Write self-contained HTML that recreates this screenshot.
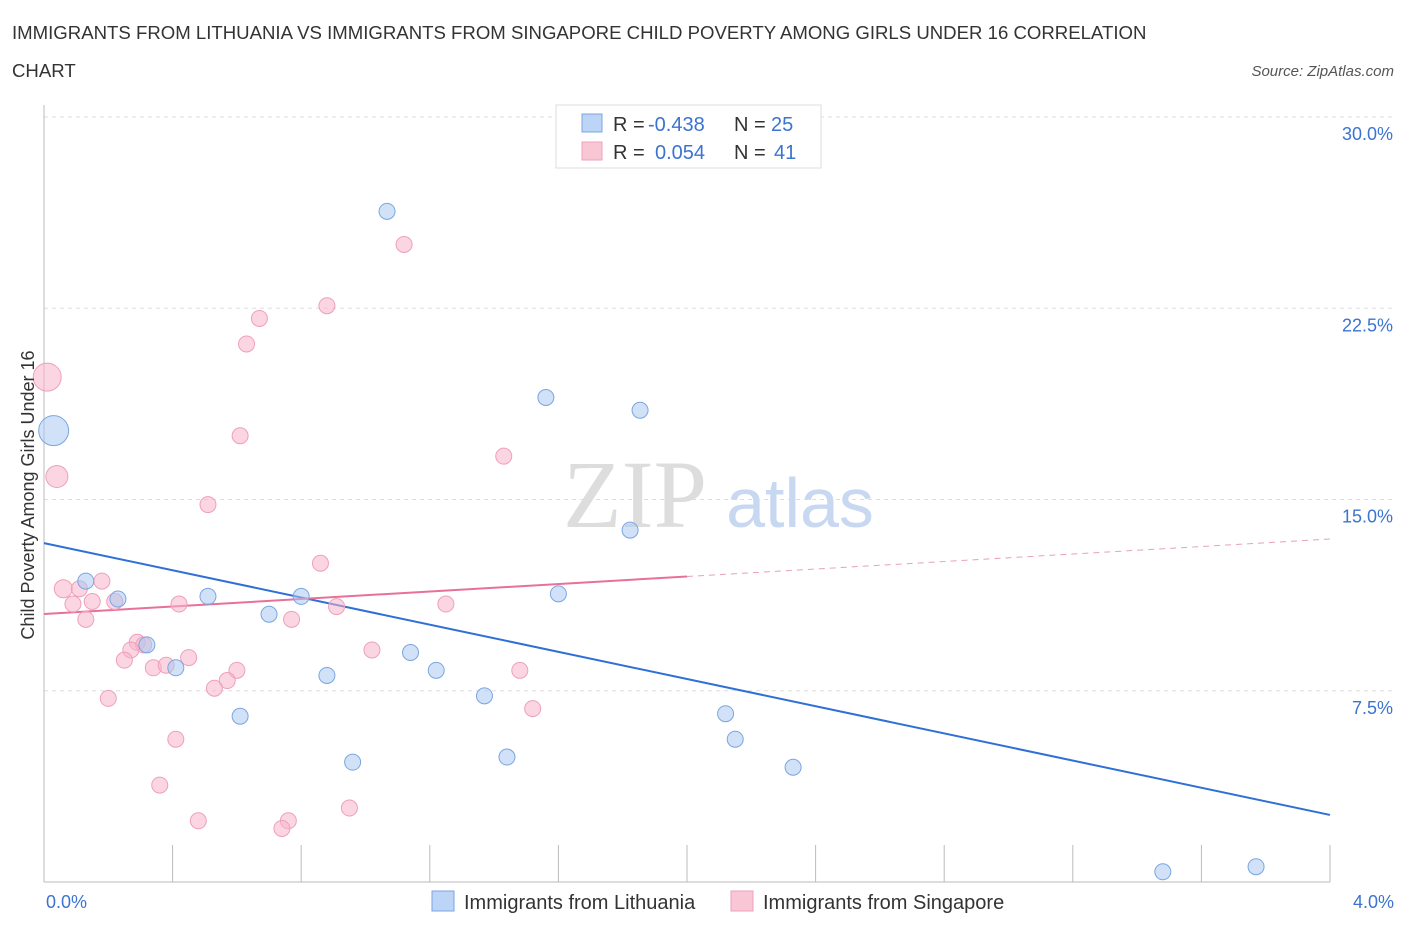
<!DOCTYPE html>
<html><head><meta charset="utf-8"><style>
body{margin:0;background:#fff;font-family:"Liberation Sans",sans-serif;}
</style></head><body>
<svg width="1406" height="930" xmlns="http://www.w3.org/2000/svg">
<text x="12" y="39" font-size="18.6" fill="#333">IMMIGRANTS FROM LITHUANIA VS IMMIGRANTS FROM SINGAPORE CHILD POVERTY AMONG GIRLS UNDER 16 CORRELATION</text>
<text x="12" y="77" font-size="18.6" fill="#333">CHART</text>
<text x="1394" y="76" font-size="15" fill="#555" font-style="italic" text-anchor="end">Source: ZipAtlas.com</text>
<g id="grid"></g>
<text x="635" y="527" font-size="96" fill="#ddd" font-family="Liberation Serif,serif" text-anchor="middle">ZIP</text>
<text x="800" y="527" font-size="70" fill="#c7d8f0" text-anchor="middle">atlas</text>
<g id="lines"></g>
<g id="pts"></g>
<text x="34" y="495" font-size="18" fill="#333" text-anchor="middle" transform="rotate(-90 34 495)">Child Poverty Among Girls Under 16</text>
<text x="46" y="908" font-size="18" fill="#3b74d0">0.0%</text>
<text x="1394" y="908" font-size="18" fill="#3b74d0" text-anchor="end">4.0%</text>
<g>
<rect x="556" y="105" width="265" height="63" fill="#fff" stroke="#ddd"/>
<rect x="582" y="114" width="20" height="18" fill="#bcd4f6" stroke="#7aa6e0"/>
<rect x="582" y="142" width="20" height="18" fill="#f9c6d6" stroke="#eea0b8"/>
<text y="131" font-size="20" fill="#333"><tspan x="613">R =</tspan><tspan x="648" fill="#3b74d0">-0.438</tspan><tspan x="734">N =</tspan><tspan x="771" fill="#3b74d0">25</tspan></text>
<text y="159" font-size="20" fill="#333"><tspan x="613">R =</tspan><tspan x="655" fill="#3b74d0">0.054</tspan><tspan x="734">N =</tspan><tspan x="774" fill="#3b74d0">41</tspan></text>
</g>
<g>
<rect x="432" y="891" width="22" height="20" fill="#bcd4f6" stroke="#7aa6e0"/>
<text x="464" y="909" font-size="20" fill="#333">Immigrants from Lithuania</text>
<rect x="731" y="891" width="22" height="20" fill="#f9c6d6" stroke="#eea0b8"/>
<text x="763" y="909" font-size="20" fill="#333">Immigrants from Singapore</text>
</g>
</svg>
<script>
const yTicks=[7.5,15,22.5,30];
const blueX=[1.067,1.561,1.854,1.823,0.13,0.23,0.51,0.8,0.7,1.6,0.32,0.41,0.88,1.14,1.22,1.37,0.61,0.96,1.44,2.12,2.15,2.33,3.48,3.77,0.03];
const blueY=[26.3,19.0,18.5,13.8,11.8,11.1,11.2,11.2,10.5,11.3,9.3,8.4,8.1,9.0,8.3,7.3,6.5,4.7,4.9,6.6,5.6,4.5,0.4,0.6,17.7];
const blueR=[8,8,8,8,8,8,8,8,8,8,8,8,8,8,8,8,8,8,8,8,8,8,8,8,15];
const pinkX=[1.12,0.88,0.67,0.63,0.01,0.61,1.43,0.04,0.51,0.86,0.18,0.06,0.11,0.09,0.15,0.22,0.42,0.91,1.25,0.13,0.77,0.29,0.31,0.27,0.45,0.25,0.34,0.38,0.6,1.02,1.48,0.57,0.53,0.2,1.52,0.41,0.36,0.95,0.48,0.76,0.74];
const pinkY=[25.0,22.6,22.1,21.1,19.8,17.5,16.7,15.9,14.8,12.5,11.8,11.5,11.5,10.9,11.0,11.0,10.9,10.8,10.9,10.3,10.3,9.4,9.3,9.1,8.8,8.7,8.4,8.5,8.3,9.1,8.3,7.9,7.6,7.2,6.8,5.6,3.8,2.9,2.4,2.4,2.1];
const pinkR=[8,8,8,8,14,8,8,11,8,8,8,9,8,8,8,8,8,8,8,8,8,8,8,8,8,8,8,8,8,8,8,8,8,8,8,8,8,8,8,8,8];
const blueLine=[13.29,2.63];
const pinkLine=[10.51,13.45];
const NS="http://www.w3.org/2000/svg";
const X=v=>44+v/4*1286, Y=v=>882-v/7.5*191.25;
function mk(t,a,p){const e=document.createElementNS(NS,t);for(const k in a)e.setAttribute(k,a[k]);p.appendChild(e);return e;}
const g=document.getElementById('grid');
yTicks.forEach(t=>{const l=mk('line',{x1:44,x2:1394,y1:Y(t),y2:Y(t),stroke:'#ddd','stroke-dasharray':'4 4'},g);


const tx=mk('text',{x:1393,y:Y(t)+23,'font-size':18,fill:'#3b74d0','text-anchor':'end'},g);tx.textContent=t.toFixed(1)+'%';

});
const ax=mk('line',{x1:44,x2:1330,y1:882,y2:882,stroke:'#bbb'},g);


const ay=mk('line',{x1:44,x2:44,y1:105,y2:882,stroke:'#bbb'},g);


for(let i=1;i<=10;i++){const t=mk('line',{x1:X(i*0.4),x2:X(i*0.4),y1:845,y2:882,stroke:'#bbb'},g);

}
const p=document.getElementById('pts');
function pts(xs,ys,rs,fill,st,name){xs.forEach((x,i)=>{const c=mk('circle',{cx:X(x),cy:Y(ys[i]),r:rs[i],fill:fill,stroke:st,'stroke-width':1},p);

});}
pts(pinkX,pinkY,pinkR,'rgba(247,180,202,0.55)','#eea0b8','point-singapore');
pts(blueX,blueY,blueR,'rgba(170,200,242,0.55)','#7aa6e0','point-lithuania');
const L=document.getElementById('lines');
const bl=mk('line',{x1:X(0),y1:Y(blueLine[0]),x2:X(4),y2:Y(blueLine[1]),stroke:'#2f6fd6','stroke-width':2},L);


const pm=pinkLine[0]+(pinkLine[1]-pinkLine[0])*0.5;
const pl=mk('line',{x1:X(0),y1:Y(pinkLine[0]),x2:X(2),y2:Y(pm),stroke:'#e8709a','stroke-width':2},L);


const pd=mk('line',{x1:X(2),y1:Y(pm),x2:X(4),y2:Y(pinkLine[1]),stroke:'#e8a0b8','stroke-width':1,'stroke-dasharray':'6 5'},L);


</script>
</body></html>
